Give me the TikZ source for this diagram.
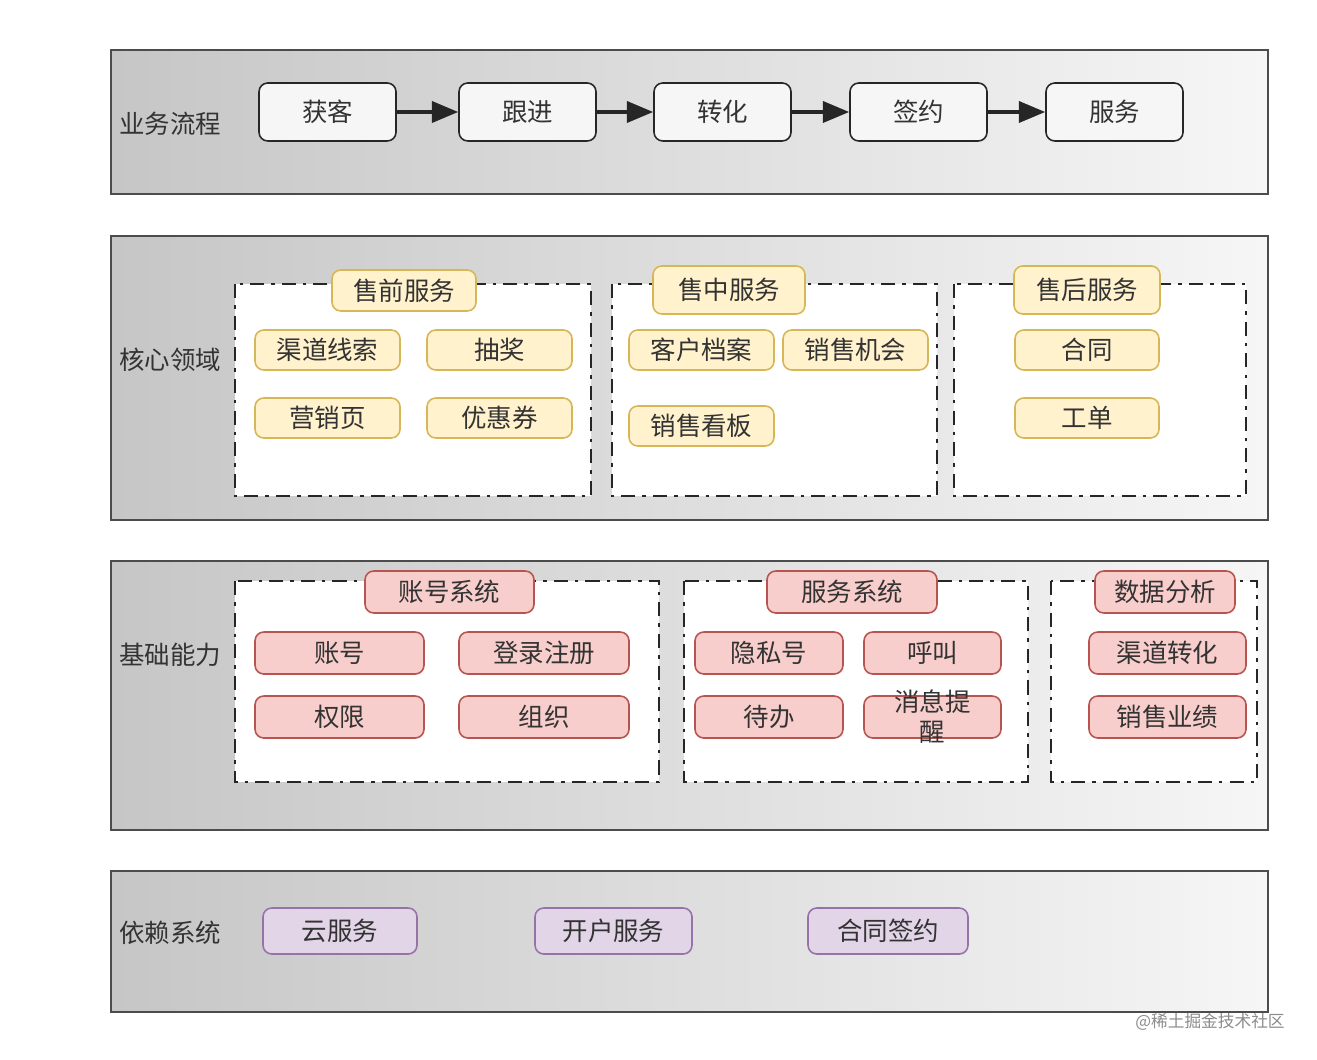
\documentclass[tikz,border=0pt]{standalone}
\usepackage{fontspec}
\setmainfont{Noto Sans CJK SC}
\usetikzlibrary{arrows.meta}
\definecolor{txt}{HTML}{333333}
\definecolor{yf}{HTML}{FFF2CC}\definecolor{yd}{HTML}{D6B656}
\definecolor{rf}{HTML}{F8CECC}\definecolor{rd}{HTML}{B85450}
\definecolor{pf}{HTML}{E1D5E7}\definecolor{pd}{HTML}{9673A6}
\definecolor{pl}{HTML}{C6C6C6}\definecolor{pr}{HTML}{F6F6F6}
\newcommand\bx[7]{\node[#1, minimum width={(#5-#3)*0.02cm}, minimum height={(#6-#4)*0.02cm}] (#2) at ({(#3+#5)/2},{(#4+#6)/2}) {#7};}
\newcommand\grp[5]{\draw[grpbox] (#2,#3) rectangle (#4,#5); \coordinate (#1) at (#2,#3);}
\newcommand\pnl[5]{\draw[panelbox] (#2,#3) rectangle (#4,#5); \coordinate (#1) at (#2,#3);}
\tikzset{
  base/.style={rounded corners=5pt, inner sep=0pt, text=txt, font=\fontsize{14.5pt}{16pt}\selectfont, align=center, line width=0.9pt},
  flow/.style={base, draw=black!85, fill=pr},
  ybox/.style={base, draw=yd, fill=yf},
  rbox/.style={base, draw=rd, fill=rf},
  pbox/.style={base, draw=pd, fill=pf},
  grpbox/.style={draw=black!85, fill=white, line width=0.9pt, dash pattern=on 8pt off 4pt on 2pt off 4pt},
  panelbox/.style={draw=black!70, line width=1.1pt, left color=pl, right color=pr},
  lbl/.style={text=txt, font=\fontsize{14.5pt}{16pt}\selectfont},
  arr/.style={-{Triangle[length=15pt,width=12pt]}, line width=2pt, draw=black!85},
}
\begin{document}
\begin{tikzpicture}[x=0.02cm,y=-0.02cm]
\useasboundingbox[fill=white] (0,0) rectangle (1317,1060);
\pnl{p1}{111}{50}{1268}{194}
\pnl{p2}{111}{236}{1268}{520}
\pnl{p3}{111}{561}{1268}{830}
\pnl{p4}{111}{871}{1268}{1012}
\node[lbl] (l1) at (170,124) {业务流程};
\node[lbl] (l2) at (170,360) {核心领域};
\node[lbl] (l3) at (170,655) {基础能力};
\node[lbl] (l4) at (170,933) {依赖系统};
% flow
\bx{flow}{f1}{259}{83}{396}{141}{获客}
\bx{flow}{f2}{459}{83}{596}{141}{跟进}
\bx{flow}{f3}{654}{83}{791}{141}{转化}
\bx{flow}{f4}{850}{83}{987}{141}{签约}
\bx{flow}{f5}{1046}{83}{1183}{141}{服务}
\draw[arr] (f1) -- (f2); \draw[arr] (f2) -- (f3); \draw[arr] (f3) -- (f4); \draw[arr] (f4) -- (f5);
% core
\grp{g1}{235}{284}{591}{496}
\grp{g2}{612}{284}{937}{496}
\grp{g3}{954}{284}{1246}{496}
\bx{ybox}{t1}{332}{270}{476}{311}{售前服务}
\bx{ybox}{t2}{653}{266}{805}{314}{售中服务}
\bx{ybox}{t3}{1014}{266}{1160}{314}{售后服务}
\bx{ybox}{y1}{255}{330}{400}{370}{渠道线索}
\bx{ybox}{y2}{427}{330}{572}{370}{抽奖}
\bx{ybox}{y3}{255}{398}{400}{438}{营销页}
\bx{ybox}{y4}{427}{398}{572}{438}{优惠券}
\bx{ybox}{y5}{629}{330}{774}{370}{客户档案}
\bx{ybox}{y6}{783}{330}{928}{370}{销售机会}
\bx{ybox}{y7}{629}{406}{774}{446}{销售看板}
\bx{ybox}{y8}{1015}{330}{1159}{370}{合同}
\bx{ybox}{y9}{1015}{398}{1159}{438}{工单}
% base
\grp{h1}{235}{581}{659}{782}
\grp{h2}{684}{581}{1028}{782}
\grp{h3}{1051}{581}{1257}{782}
\bx{rbox}{s1}{365}{571}{534}{613}{账号系统}
\bx{rbox}{s2}{767}{571}{937}{613}{服务系统}
\bx{rbox}{s3}{1095}{571}{1235}{613}{数据分析}
\bx{rbox}{r1}{255}{632}{424}{674}{账号}
\bx{rbox}{r2}{459}{632}{629}{674}{登录注册}
\bx{rbox}{r3}{255}{696}{424}{738}{权限}
\bx{rbox}{r4}{459}{696}{629}{738}{组织}
\bx{rbox}{r5}{695}{632}{843}{674}{隐私号}
\bx{rbox}{r6}{864}{632}{1001}{674}{呼叫}
\bx{rbox}{r7}{695}{696}{843}{738}{待办}
\bx{rbox}{r8}{864}{696}{1001}{738}{}
\node[lbl, align=center, font=\fontsize{14.5pt}{17pt}\selectfont] (r8t) at (r8) {消息提\\醒};
\bx{rbox}{r9}{1089}{632}{1246}{674}{渠道转化}
\bx{rbox}{r10}{1089}{696}{1246}{738}{销售业绩}
% deps
\bx{pbox}{d1}{263}{908}{417}{954}{云服务}
\bx{pbox}{d2}{535}{908}{692}{954}{开户服务}
\bx{pbox}{d3}{808}{908}{968}{954}{合同签约}
\node[text=black!45, font=\fontsize{9.5pt}{11pt}\selectfont] (wm) at (1210,1022) {@稀土掘金技术社区};
\end{tikzpicture}
\end{document}
